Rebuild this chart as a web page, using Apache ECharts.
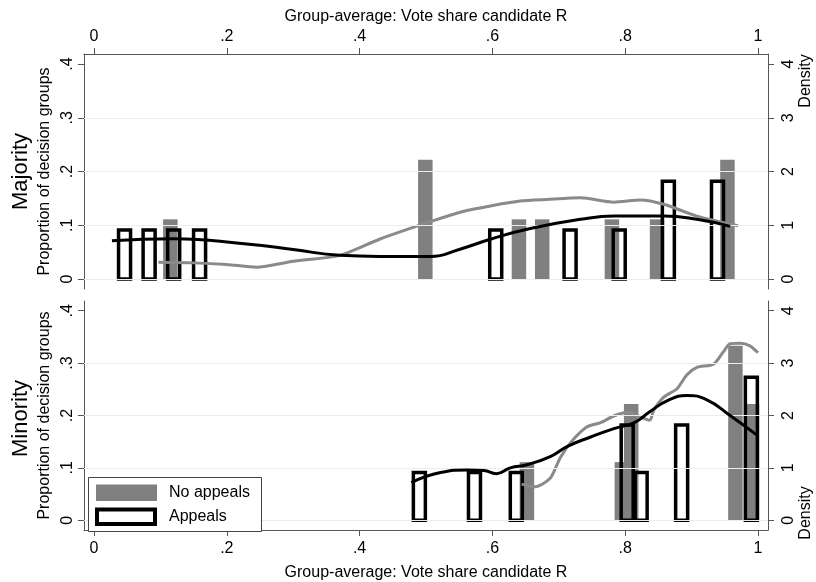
<!DOCTYPE html>
<html>
<head>
<meta charset="utf-8">
<script src="https://cdn.jsdelivr.net/npm/echarts@6/dist/echarts.min.js"></script>
<style>html,body{margin:0;padding:0;background:#fff}#c{width:816px;height:582px}</style>
</head>
<body>
<div id="c"></div>
<script>
// ---- Data ----
const xTicks = [0, 0.2, 0.4, 0.6, 0.8, 1];
const xTickLabels = ['0', '.2', '.4', '.6', '.8', '1'];
const propTicks = [0, 0.1, 0.2, 0.3, 0.4];
const propTickLabels = ['0', '.1', '.2', '.3', '.4'];
const densTicks = [0, 1, 2, 3, 4];
const densTickLabels = ['0', '1', '2', '3', '4'];
const legendNames = ['No appeals', 'Appeals'];

// Majority panel
const majNoAppealsX = [0.115, 0.499, 0.640, 0.675, 0.780, 0.848, 0.954];
const majNoAppealsY = [0.111, 0.222, 0.111, 0.111, 0.111, 0.111, 0.222];
const majAppealsX = [0.046, 0.083, 0.120, 0.159, 0.605, 0.717, 0.791, 0.865, 0.939];
const majAppealsY = [0.091, 0.091, 0.091, 0.091, 0.091, 0.091, 0.091, 0.182, 0.182];
const majDensNoX = [0.097, 0.15, 0.2, 0.245, 0.3, 0.37, 0.43, 0.51, 0.557, 0.597, 0.642, 0.682, 0.733, 0.783, 0.823, 0.858, 0.908, 0.970];
const majDensNoY = [0.31, 0.30, 0.27, 0.22, 0.33, 0.44, 0.74, 1.08, 1.26, 1.36, 1.45, 1.48, 1.51, 1.43, 1.47, 1.39, 1.17, 0.99];
const majDensApX = [0.027, 0.12, 0.23, 0.3, 0.37, 0.43, 0.507, 0.55, 0.597, 0.657, 0.733, 0.783, 0.858, 0.908, 0.958];
const majDensApY = [0.71, 0.75, 0.65, 0.55, 0.44, 0.42, 0.42, 0.55, 0.74, 0.94, 1.11, 1.17, 1.17, 1.11, 0.98];

// Minority panel
const minNoAppealsX = [0.652, 0.795, 0.809, 0.966, 0.991];
const minNoAppealsY = [0.111, 0.111, 0.222, 0.333, 0.222];
const minAppealsX = [0.490, 0.573, 0.636, 0.803, 0.824, 0.885, 0.990];
const minAppealsY = [0.091, 0.091, 0.091, 0.182, 0.091, 0.182, 0.273];
const minDensNoX = [0.644, 0.664, 0.687, 0.702, 0.719, 0.742, 0.762, 0.783, 0.803, 0.818, 0.837, 0.843, 0.858, 0.878, 0.893, 0.908, 0.933, 0.948, 0.958, 0.973, 0.988, 1.0];
const minDensNoY = [0.69, 0.64, 0.80, 1.19, 1.50, 1.78, 1.86, 1.99, 2.06, 2.00, 1.91, 2.10, 2.35, 2.51, 2.78, 2.92, 2.98, 3.22, 3.37, 3.38, 3.33, 3.20];
const minDensApX = [0.478, 0.522, 0.562, 0.587, 0.606, 0.627, 0.652, 0.688, 0.713, 0.748, 0.783, 0.813, 0.838, 0.863, 0.893, 0.923, 0.958, 0.998];
const minDensApY = [0.72, 0.91, 0.96, 0.95, 0.89, 1.00, 1.06, 1.22, 1.41, 1.59, 1.75, 1.86, 2.08, 2.28, 2.38, 2.30, 2.00, 1.63];

// ---- Build ----
const FONT = 'Liberation Sans, Arial, Helvetica, sans-serif';
const GRAY = '#808080';
const AXIS = '#555';
const PADX = 10 / 663.6;
const PADY = 10 / 215;
const zip = (a, b) => a.map((v, i) => [v, b[i]]);
const fmt = (ticks, labels) => (v) => {
  const i = ticks.findIndex(t => Math.abs(t - v) < 1e-9);
  return i >= 0 ? labels[i] : '';
};

function xAxisFor(grid, pos) {
  const top = pos === 'top';
  return {
    type: 'value', gridIndex: grid, position: pos,
    min: -PADX, max: 1 + PADX,
    name: 'Group-average: Vote share candidate R', nameLocation: 'middle',
    nameGap: top ? 29 : 35,
    nameTextStyle: { fontFamily: FONT, fontSize: 16, color: '#000' },
    axisLine: { show: true, onZero: false, lineStyle: { color: AXIS, width: 1 } },
    axisTick: { show: true, length: 6, customValues: xTicks, lineStyle: { color: AXIS } },
    axisLabel: { customValues: xTicks, formatter: fmt(xTicks, xTickLabels), margin: top ? 9 : 11,
      fontFamily: FONT, fontSize: 16, color: '#000' },
    splitLine: { show: false }
  };
}
function yLeftFor(grid) {
  return {
    type: 'value', gridIndex: grid, position: 'left',
    min: -0.4 * PADY, max: 0.4 * (1 + PADY),
    name: 'Proportion of decision groups', nameLocation: 'middle', nameGap: 25, nameRotate: 90,
    nameTextStyle: { fontFamily: FONT, fontSize: 16, color: '#000' },
    axisLine: { show: true, onZero: false, lineStyle: { color: AXIS, width: 1 } },
    axisTick: { show: true, length: 6, customValues: propTicks, lineStyle: { color: AXIS } },
    axisLabel: { customValues: propTicks, formatter: fmt(propTicks, propTickLabels), rotate: 90, margin: 8,
      fontFamily: FONT, fontSize: 16, color: '#000' },
    splitLine: { show: false }
  };
}
function yRightFor(grid) {
  return {
    type: 'value', gridIndex: grid, position: 'right',
    min: -4 * PADY, max: 4 * (1 + PADY),
    axisLine: { show: true, onZero: false, lineStyle: { color: AXIS, width: 1 } },
    axisTick: { show: true, length: 6, customValues: densTicks, lineStyle: { color: AXIS } },
    axisLabel: { customValues: densTicks, formatter: fmt(densTicks, densTickLabels), rotate: 90, margin: 13,
      fontFamily: FONT, fontSize: 16, color: '#000' },
    splitLine: { show: false }
  };
}

function barRender(filled) {
  return function (params, api) {
    const x = api.value(0), y = api.value(1);
    const p0 = api.coord([x, 0]);
    const p1 = api.coord([x, y]);
    const w = filled ? 14.5 : 12;
    return {
      type: 'rect',
      shape: { x: p0[0] - w / 2, y: p1[1], width: w, height: p0[1] - p1[1] },
      style: filled ? { fill: GRAY } : { fill: 'none', stroke: '#000', lineWidth: 3.5 }
    };
  };
}

function panelSeries(idx, noX, noY, apX, apY, dNoX, dNoY, dApX, dApY) {
  const xi = idx, yl = idx * 2, yr = idx * 2 + 1;
  return [
    { type: 'line', xAxisIndex: xi, yAxisIndex: yl, data: [], z: 1, silent: true,
      markLine: { silent: true, symbol: ['none', 'none'], label: { show: false }, animation: false,
        lineStyle: { color: '#e6eef1', width: 1, type: 'solid' },
        data: propTicks.slice(0, 4).map(v => ({ yAxis: v })) } },
    { name: legendNames[0], type: 'custom', xAxisIndex: xi, yAxisIndex: yl, z: 2,
      itemStyle: { color: GRAY }, renderItem: barRender(true), data: zip(noX, noY) },
    { name: legendNames[1], type: 'custom', xAxisIndex: xi, yAxisIndex: yl, z: 3,
      itemStyle: { color: '#fff', borderColor: '#000' }, renderItem: barRender(false), data: zip(apX, apY) },
    { type: 'line', xAxisIndex: xi, yAxisIndex: yr, z: 4, showSymbol: false, smooth: 0.25,
      lineStyle: { color: '#8a8a8a', width: 3 }, data: zip(dNoX, dNoY) },
    { type: 'line', xAxisIndex: xi, yAxisIndex: yr, z: 5, showSymbol: false, smooth: 0.5,
      lineStyle: { color: '#000', width: 3 }, data: zip(dApX, dApY) }
  ];
}

const txt = (text, x, y, size, rot) => ({
  type: 'text', x: x, y: y, rotation: rot || 0, z: 100,
  style: { text: text, font: size + 'px ' + FONT, fill: '#000',
    align: rot ? 'center' : 'left', verticalAlign: 'middle' }
});

const chart = echarts.init(document.getElementById('c'), null, { renderer: 'canvas' });
const option = {
  animation: false,
  backgroundColor: '#fff',
  grid: [
    { left: 84, right: 48, top: 54, height: 235 },
    { left: 84, right: 48, top: 301, height: 235 }
  ],
  xAxis: [xAxisFor(0, 'top'), xAxisFor(1, 'bottom')],
  yAxis: [yLeftFor(0), yRightFor(0), yLeftFor(1), yRightFor(1)],
  graphic: [
    txt('Majority', 21, 171.5, 22, Math.PI / 2),
    txt('Minority', 21, 418.5, 22, Math.PI / 2),
    txt('Density', 806, 81, 16, Math.PI / 2),
    txt('Density', 806, 513, 16, Math.PI / 2),
    // legend box
    { type: 'rect', z: 90, shape: { x: 88.5, y: 477.5, width: 173, height: 54 },
      style: { fill: '#fff', stroke: '#444', lineWidth: 1 } },
    { type: 'rect', z: 91, shape: { x: 96, y: 484.5, width: 61, height: 16.5 },
      style: { fill: GRAY } },
    { type: 'rect', z: 91, shape: { x: 97, y: 509.5, width: 58, height: 14.5 },
      style: { fill: '#fff', stroke: '#000', lineWidth: 4 } },
    txt(legendNames[0], 169, 493, 16),
    txt(legendNames[1], 169, 517, 16)
  ],
  series: [].concat(
    panelSeries(0, majNoAppealsX, majNoAppealsY, majAppealsX, majAppealsY, majDensNoX, majDensNoY, majDensApX, majDensApY),
    panelSeries(1, minNoAppealsX, minNoAppealsY, minAppealsX, minAppealsY, minDensNoX, minDensNoY, minDensApX, minDensApY)
  )
};
chart.setOption(option);
</script>
</body>
</html>
